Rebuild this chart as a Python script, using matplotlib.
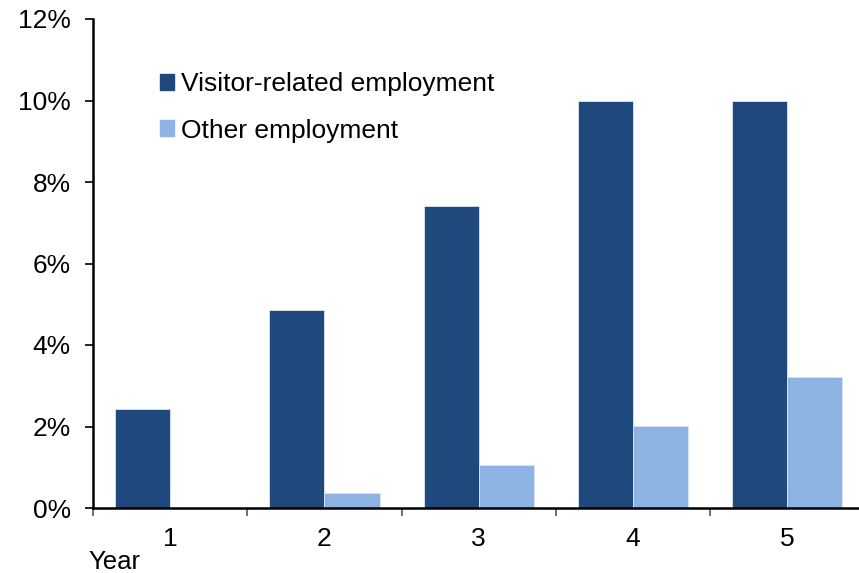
import numpy as np
import matplotlib.pyplot as plt
from matplotlib.patches import Patch
from matplotlib.ticker import FuncFormatter

# Data (percent)
years = ['1', '2', '3', '4', '5']
visitor = [2.42, 4.87, 7.40, 10.0, 10.0]
other = [0.0, 0.37, 1.06, 2.01, 3.21]

dark = '#1F497D'
light = '#8DB3E2'

plt.rcParams['font.family'] = ['Liberation Sans', 'DejaVu Sans']

fig = plt.figure(figsize=(8.59, 5.73), dpi=100)
ax = fig.add_axes([93 / 859, 1 - 508 / 573, 771.5 / 859, 489 / 573])

x = np.arange(len(years))
w = 0.357
ax.bar(x - w / 2, visitor, w, color=dark, edgecolor='#DCE6F2', linewidth=0.6)
ax.bar(x + w / 2, other, w, color=light, edgecolor='#DCE6F2', linewidth=0.6)

ax.set_xlim(-0.5, len(years) - 0.5)
ax.set_ylim(0, 12)
ax.set_yticks(np.arange(0, 13, 2))
ax.yaxis.set_major_formatter(FuncFormatter(lambda v, p: f'{v:.0f}%'))

ax.set_xticks(x)
ax.set_xticklabels(years)
ax.set_xticks(np.arange(-0.5, len(years)), minor=True)
ax.tick_params(axis='x', which='major', length=0, labelsize=19, pad=14)
ax.tick_params(axis='x', which='minor', length=6, width=1.2, color='#555555')
ax.tick_params(axis='y', length=6, width=1.2, labelsize=19, pad=10)

for s in ['top', 'right']:
    ax.spines[s].set_visible(False)
for s in ['left', 'bottom']:
    ax.spines[s].set_linewidth(1.8)

fig.text(88 / 859, 1 - 562 / 573, 'Year', fontsize=18.5, va='center', ha='left')

handles = [Patch(color=dark, label='Visitor-related employment'),
           Patch(color=light, label='Other employment')]
ax.legend(handles=handles, loc='upper left', bbox_to_anchor=(0.056, 0.94),
          frameon=False, fontsize=19, handlelength=0.53, handleheight=0.53,
          handletextpad=0.27, labelspacing=0.85)

fig.savefig('out.png', dpi=100)
